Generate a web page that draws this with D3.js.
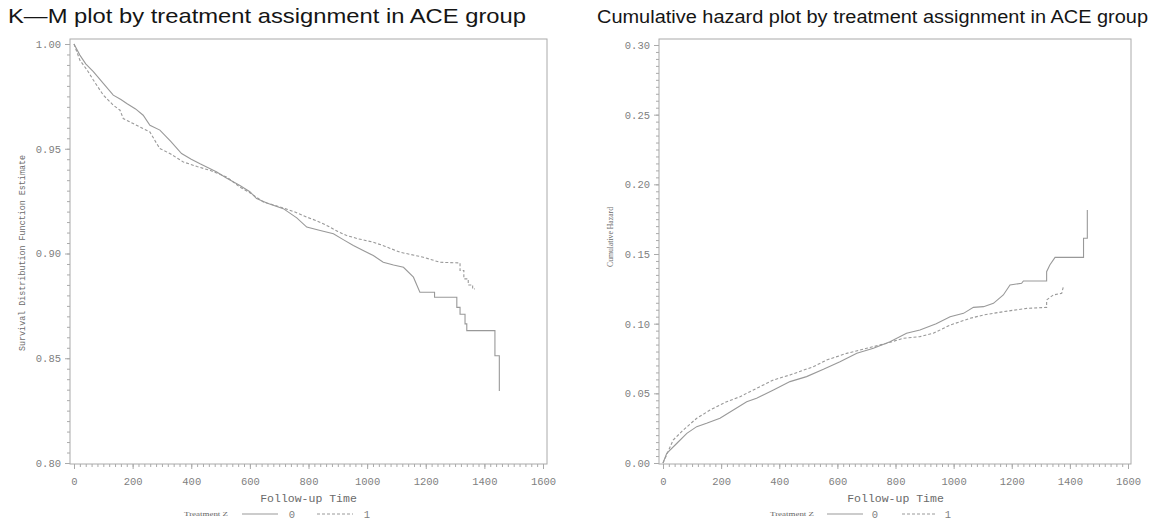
<!DOCTYPE html>
<html>
<head>
<meta charset="utf-8">
<script src="https://cdn.jsdelivr.net/npm/d3@7"></script>
<style>
  html, body { margin: 0; padding: 0; background: #fff; }
  svg { display: block; }
</style>
</head>
<body>
<svg id="chart" width="1152" height="525"></svg>
<script>
// ---------------- DATA ----------------
const kmTitle = "K—M plot by treatment assignment in ACE group";
const chTitle = "Cumulative hazard plot by treatment assignment in ACE group";
const kmYLabel = "Survival Distribution Function Estimate";
const chYLabel = "Cumulative Hazard";
const xLabel = "Follow-up Time";
const legendTitle = "Treatment Z";
const groupLabels = ["0", "1"];

const xTicks = [0, 200, 400, 600, 800, 1000, 1200, 1400, 1600];
const kmYTicks = [0.80, 0.85, 0.90, 0.95, 1.00];
const chYTicks = [0.00, 0.05, 0.10, 0.15, 0.20, 0.25, 0.30];

// K-M estimates, group 0 (solid); repeated times mark the drops of the late steps
const kmTime0 = [0, 20, 40, 66, 100, 134, 160, 180, 210, 236, 259, 293, 330, 367, 400, 430, 487, 520, 566, 600, 623, 660, 714, 760, 794, 840, 885, 920, 953, 990, 1021, 1055, 1090, 1124, 1158, 1180, 1230, 1230, 1306, 1306, 1317, 1317, 1334, 1334, 1340, 1340, 1436, 1436, 1451, 1451];
const kmSurv0 = [1.000, 0.9947, 0.9905, 0.9868, 0.9812, 0.9756, 0.9735, 0.9716, 0.9690, 0.9660, 0.9612, 0.9589, 0.9535, 0.9477, 0.9450, 0.9428, 0.9389, 0.9360, 0.9325, 0.9295, 0.9262, 0.9240, 0.9214, 0.9170, 0.9126, 0.9110, 0.9094, 0.9065, 0.9038, 0.9012, 0.8990, 0.8958, 0.8945, 0.8934, 0.8887, 0.8815, 0.8815, 0.8791, 0.8791, 0.8743, 0.8743, 0.8710, 0.8710, 0.8664, 0.8664, 0.8632, 0.8632, 0.8512, 0.8512, 0.8344];

// K-M estimates, group 1 (dashed)
const kmTime1 = [0, 20, 45, 66, 100, 134, 157, 168, 202, 259, 282, 293, 330, 373, 420, 464, 521, 566, 600, 646, 703, 750, 794, 830, 862, 900, 930, 970, 1021, 1060, 1112, 1150, 1192, 1249, 1317, 1317, 1330, 1330, 1345, 1345, 1360, 1360, 1368];
const kmSurv1 = [1.000, 0.9923, 0.9875, 0.9828, 0.9756, 0.9708, 0.9684, 0.9644, 0.9620, 0.9580, 0.9525, 0.9501, 0.9475, 0.9437, 0.9415, 0.9397, 0.9365, 0.9317, 0.9290, 0.9246, 0.9222, 0.9200, 0.9174, 0.9155, 0.9134, 0.9105, 0.9086, 0.9070, 0.9054, 0.9035, 0.9006, 0.8995, 0.8982, 0.8958, 0.8955, 0.8919, 0.8919, 0.8879, 0.8879, 0.8850, 0.8850, 0.8831, 0.8831];

// Cumulative hazard, group 0 (solid)
const chTime0 = [0, 13, 47, 82, 116, 150, 196, 242, 288, 322, 380, 437, 494, 552, 609, 667, 724, 781, 838, 884, 940, 988, 1034, 1068, 1103, 1137, 1171, 1194, 1234, 1240, 1320, 1320, 1331, 1349, 1447, 1447, 1460, 1460];
const chHaz0  = [0, 0.007, 0.014, 0.0213, 0.0261, 0.0285, 0.0321, 0.038, 0.044, 0.0464, 0.0524, 0.0584, 0.062, 0.0672, 0.0727, 0.0787, 0.0823, 0.087, 0.0931, 0.0955, 0.100, 0.105, 0.1074, 0.1117, 0.1122, 0.1146, 0.1206, 0.1278, 0.129, 0.1306, 0.1306, 0.1373, 0.1421, 0.1476, 0.1476, 0.1613, 0.1613, 0.1816];

// Cumulative hazard, group 1 (dashed)
const chTime1 = [0, 35, 70, 116, 162, 219, 265, 299, 380, 437, 517, 563, 632, 701, 770, 827, 884, 930, 988, 1056, 1102, 1171, 1252, 1320, 1320, 1343, 1372, 1377];
const chHaz1  = [0, 0.0165, 0.0237, 0.0321, 0.038, 0.044, 0.0476, 0.0512, 0.0596, 0.0632, 0.0691, 0.0739, 0.0787, 0.0823, 0.0859, 0.0895, 0.0907, 0.0931, 0.099, 0.1038, 0.1062, 0.1086, 0.111, 0.1117, 0.117, 0.1206, 0.1218, 0.126];

// ---------------- DRAW ----------------
const svg = d3.select("#chart");
const MONO = "'Liberation Mono', 'DejaVu Sans Mono', monospace";
const SERIF = "'Liberation Serif', 'DejaVu Serif', serif";
const SANS = "'Liberation Sans', Arial, sans-serif";
const lineColor = "#999999";
const frameColor = "#aaaaaa";
const tickTextColor = "#808080";

function zip(ts, vs) { return ts.map((t, i) => ({ t, v: vs[i] })); }

function panel(cfg) {
  const g = svg.append("g");
  const x = d3.scaleLinear().domain([0, 1600]).range(cfg.xRange);
  const y = d3.scaleLinear().domain(cfg.yDomain).range(cfg.yRange);

  g.append("text")
    .attr("x", cfg.titleX).attr("y", 23)
    .attr("font-family", SANS).attr("font-size", cfg.titleSize)
    .attr("fill", "#151515")
    .attr("textLength", cfg.titleLen).attr("lengthAdjust", "spacingAndGlyphs")
    .text(cfg.title);

  g.append("rect")
    .attr("x", cfg.frame[0]).attr("y", cfg.frame[1])
    .attr("width", cfg.frame[2] - cfg.frame[0]).attr("height", cfg.frame[3] - cfg.frame[1])
    .attr("fill", "none").attr("stroke", frameColor).attr("stroke-width", 1);

  const ya = g.append("g").attr("transform", `translate(${cfg.frame[0]},0)`)
    .call(d3.axisLeft(y).tickValues(cfg.yTicks).tickFormat(d3.format(".2f")).tickSize(5).tickPadding(4));
  const yMinor = d3.range(0, Math.round((cfg.yDomain[1] - cfg.yDomain[0]) / 0.005) + 1)
      .map(i => cfg.yDomain[0] + i * 0.005);
  const yam = g.append("g").attr("transform", `translate(${cfg.frame[0]},0)`)
    .call(d3.axisLeft(y).tickValues(yMinor).tickFormat("").tickSize(3));

  const xa = g.append("g").attr("transform", `translate(0,${cfg.frame[3]})`)
    .call(d3.axisBottom(x).tickValues(xTicks).tickFormat(d3.format("d")).tickSize(5).tickPadding(9));
  const xam = g.append("g").attr("transform", `translate(0,${cfg.frame[3]})`)
    .call(d3.axisBottom(x).tickValues(d3.range(0, 1601, 20)).tickFormat("").tickSize(3));

  [ya, yam, xa, xam].forEach(a => {
    a.select(".domain").remove();
    a.selectAll("line").attr("stroke", frameColor);
    a.selectAll("text").attr("font-family", MONO).attr("font-size", 10.5).attr("fill", tickTextColor);
  });

  g.append("text")
    .attr("transform", `translate(${cfg.yLabelX},${cfg.yLabelY}) rotate(-90)`)
    .attr("text-anchor", "middle")
    .attr("font-family", cfg.yLabelFont).attr("font-size", cfg.yLabelSize)
    .attr("fill", "#6a6a6a")
    .attr("textLength", cfg.yLabelLen).attr("lengthAdjust", "spacingAndGlyphs")
    .text(cfg.yLabel);

  g.append("text")
    .attr("x", (x(0) + x(1600)) / 2).attr("y", 502)
    .attr("text-anchor", "middle")
    .attr("font-family", MONO).attr("font-size", 11.5)
    .attr("fill", "#6a6a6a")
    .text(xLabel);

  const line = d3.line().curve(d3.curveLinear).x(d => x(d.t)).y(d => y(d.v));
  g.append("path").datum(zip(cfg.t0, cfg.v0))
    .attr("d", line).attr("fill", "none").attr("stroke", lineColor).attr("stroke-width", 1.1);
  g.append("path").datum(zip(cfg.t1, cfg.v1))
    .attr("d", line).attr("fill", "none").attr("stroke", lineColor).attr("stroke-width", 1.1)
    .attr("stroke-dasharray", "3,2");

  const L = cfg.legend;
  g.append("text").attr("x", L.titleX).attr("y", 516)
    .attr("font-family", SERIF).attr("font-size", 7).attr("fill", "#666")
    .attr("textLength", 44).attr("lengthAdjust", "spacingAndGlyphs")
    .text(legendTitle);
  [0, 1].forEach(i => {
    g.append("line").attr("x1", L.lines[i][0]).attr("x2", L.lines[i][1])
      .attr("y1", 514).attr("y2", 514)
      .attr("stroke", lineColor).attr("stroke-width", 1)
      .attr("stroke-dasharray", i === 1 ? "3,2" : null);
    g.append("text").attr("x", L.labels[i]).attr("y", 518)
      .attr("text-anchor", "middle")
      .attr("font-family", MONO).attr("font-size", 10.5).attr("fill", tickTextColor)
      .text(groupLabels[i]);
  });
}

panel({
  title: kmTitle, titleX: 8, titleSize: 21, titleLen: 518,
  xRange: [74, 543], yDomain: [0.80, 1.00], yRange: [463, 44],
  frame: [70, 39, 547, 464], yTicks: kmYTicks,
  yLabel: kmYLabel, yLabelX: 25, yLabelY: 253, yLabelFont: MONO, yLabelSize: 8.5, yLabelLen: 196,
  t0: kmTime0, v0: kmSurv0, t1: kmTime1, v1: kmSurv1,
  legend: { titleX: 184, lines: [[242, 278], [317, 353]], labels: [292, 367] }
});

panel({
  title: chTitle, titleX: 597, titleSize: 17.5, titleLen: 551,
  xRange: [663, 1128], yDomain: [0.00, 0.30], yRange: [463, 45],
  frame: [659, 39, 1131, 464], yTicks: chYTicks,
  yLabel: chYLabel, yLabelX: 613, yLabelY: 237, yLabelFont: SERIF, yLabelSize: 8.5, yLabelLen: 60,
  t0: chTime0, v0: chHaz0, t1: chTime1, v1: chHaz1,
  legend: { titleX: 770, lines: [[827, 863], [902, 935]], labels: [875, 948] }
});
</script>
</body>
</html>
